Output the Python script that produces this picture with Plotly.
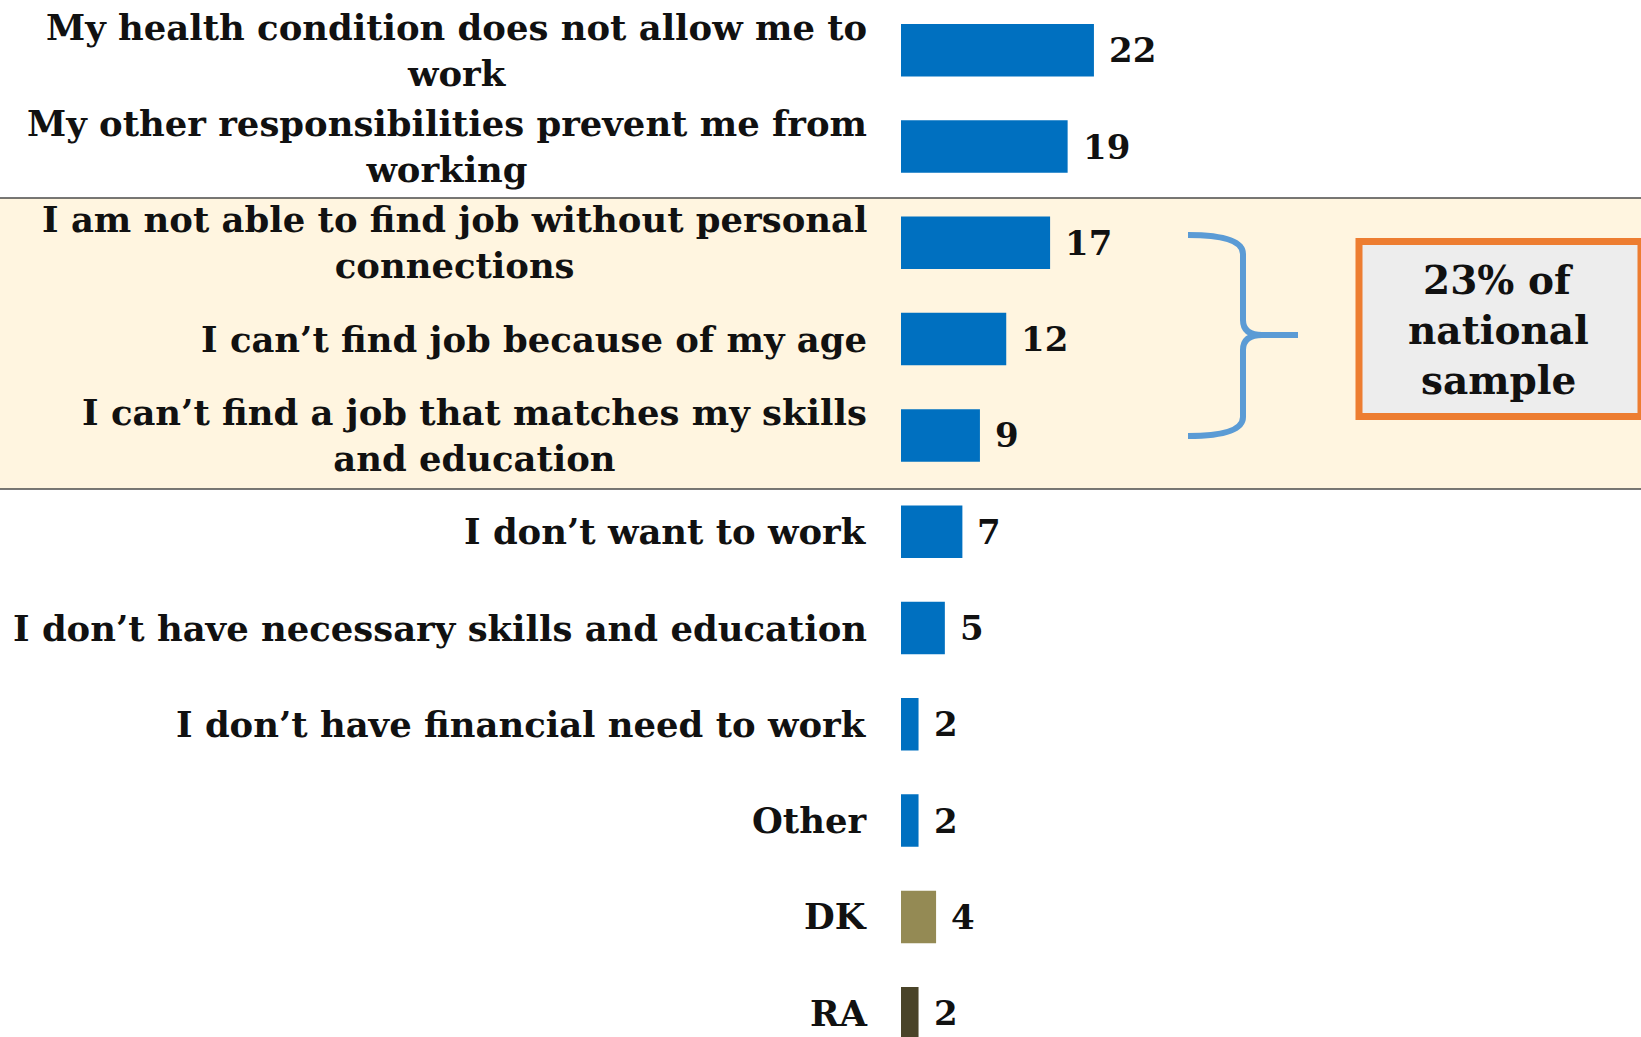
import plotly.graph_objects as go

categories = [
    "My health condition does not allow me to<br>work",
    "My other responsibilities prevent me from<br>working",
    "I am not able to find job without personal<br>connections",
    "I can\u2019t find job because of my age",
    "I can\u2019t find a job that matches my skills<br>and education",
    "I don\u2019t want to work",
    "I don\u2019t have necessary skills and education",
    "I don\u2019t have financial need to work",
    "Other",
    "DK",
    "RA",
]
values = [22, 19, 17, 12, 9, 7, 5, 2, 2, 4, 2]
bar_colors = ["#0070C0"] * 9 + ["#948A54", "#4A4429"]
callout_lines = ["23% of", "national", "sample"]

W, H = 1641, 1037
PL = 901  # plot left in px
PW = W - PL
FONT = "DejaVu Serif"
LSIZE = 35.4


def px(x):
    return (x - PL) / PW


def py(y):
    return 1 - y / H


fig = go.Figure()
fig.add_trace(go.Bar(
    x=values, y=categories, orientation="h",
    marker=dict(color=bar_colors, line=dict(width=0)),
    width=0.545, hoverinfo="skip",
))

# category labels
for c in categories:
    fig.add_annotation(
        x=px(868.5), xref="paper", y=c, yref="y", text=c, showarrow=False,
        xanchor="right", yanchor="middle", align="center",
        font=dict(family=FONT, size=LSIZE, color="#111111", weight="bold"),
    )
# value labels
for c, v in zip(categories, values):
    fig.add_annotation(
        x=v, xref="x", y=c, yref="y", text=str(v), showarrow=False,
        xanchor="left", yanchor="middle", xshift=13,
        font=dict(family=FONT, size=34, color="#111111", weight="bold"),
    )

shapes = []
# highlight band
shapes.append(dict(type="rect", xref="paper", yref="paper",
                   x0=px(0), x1=px(W), y0=py(489), y1=py(198),
                   fillcolor="#FFF5E0", line=dict(width=0), layer="below"))
for yy in (198, 489):
    shapes.append(dict(type="line", xref="paper", yref="paper",
                       x0=px(0), x1=px(W), y0=py(yy), y1=py(yy),
                       line=dict(color="#4A4A4A", width=1.5), layer="below"))


def P(x, y):
    return f"{px(x):.5f},{py(y):.5f}"


brace = ("M " + P(1188, 235) + " Q " + P(1243, 235) + " " + P(1243, 254) +
         " L " + P(1243, 320) + " Q " + P(1243, 335) + " " + P(1262, 335) +
         " L " + P(1298, 335) +
         " M " + P(1262, 335) + " Q " + P(1243, 335) + " " + P(1243, 350) +
         " L " + P(1243, 417) + " Q " + P(1243, 436) + " " + P(1188, 436))
shapes.append(dict(type="path", xref="paper", yref="paper", path=brace,
                   line=dict(color="#5B9BD5", width=6)))
# callout box
shapes.append(dict(type="rect", xref="paper", yref="paper",
                   x0=px(1359), x1=px(1641), y0=py(416.5), y1=py(241.5),
                   fillcolor="#EDEDED", line=dict(color="#ED7D31", width=7)))
fig.update_layout(shapes=shapes)

for i, t in enumerate(callout_lines):
    fig.add_annotation(
        x=px(1498), xref="paper", y=py(280 + 50 * i), yref="paper", text=t,
        showarrow=False, xanchor="center", yanchor="middle", align="center",
        font=dict(family=FONT, size=39, color="#111111", weight="bold"),
    )

top_px = 50.2
step = 96.3
fig.update_yaxes(
    type="category", categoryorder="array", categoryarray=categories,
    range=[(H - top_px) / step, -top_px / step],
    showticklabels=False, showgrid=False, zeroline=False, showline=False,
    fixedrange=True,
)
fig.update_xaxes(
    range=[0, PW / 8.77], visible=False, showgrid=False, zeroline=False,
)
fig.update_layout(
    width=W, height=H,
    margin=dict(l=PL, r=0, t=0, b=0),
    paper_bgcolor="white", plot_bgcolor="rgba(0,0,0,0)",
    showlegend=False,
)

fig.write_html(
    "out.html",
    config={"displayModeBar": False},
    post_script="document.body.style.margin='0px';document.body.style.overflow='hidden';",
)
